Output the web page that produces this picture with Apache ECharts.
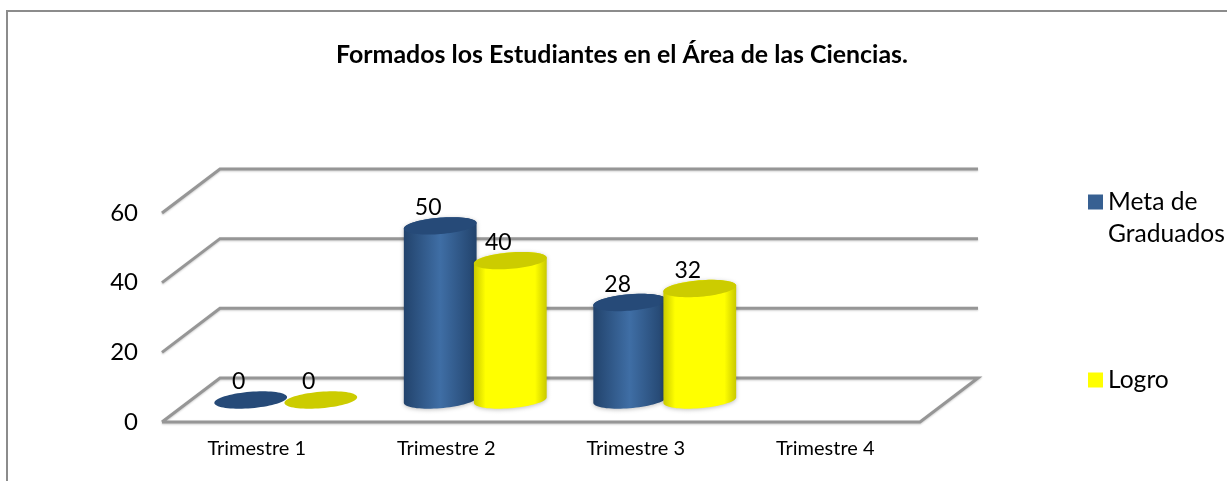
<!DOCTYPE html>
<html>
<head>
<meta charset="utf-8">
<style>
  html, body { margin: 0; padding: 0; background: #fff; }
  #chart { width: 1227px; height: 481px; }
</style>
<script src="https://cdn.jsdelivr.net/npm/echarts@6/dist/echarts.min.js"></script>
</head>
<body>
<div id="chart"></div>
<script>
  var categories = ['Trimestre 1', 'Trimestre 2', 'Trimestre 3', 'Trimestre 4']
  var metaValues = [0, 50, 28, null]
  var logroValues = [0, 40, 32, null]
  var yTicks = [0, 20, 40, 60]

  // oblique depth of the 3D floor
  var DEPTH_X = 58
  var DEPTH_Y = -44
  // cylinder ellipse
  var RX = 36.5
  var RY = 8.2
  var TILT = -4.7 * Math.PI / 180

  function ellipsePoint(cx, cy, t) {
    var ex = RX * Math.cos(t)
    var ey = RY * Math.sin(t)
    return [
      cx + ex * Math.cos(TILT) - ey * Math.sin(TILT),
      cy + ex * Math.sin(TILT) + ey * Math.cos(TILT)
    ]
  }

  function ellipsePoints(cx, cy) {
    var pts = []
    for (var i = 0; i < 72; i++) {
      pts.push(ellipsePoint(cx, cy, i / 72 * Math.PI * 2))
    }
    return pts
  }

  // parameter where the rotated ellipse has its vertical tangent
  function tangentAngle() {
    return Math.atan2(-RY * Math.sin(TILT), RX * Math.cos(TILT))
  }

  function bodyPoints(cx, topY, baseY) {
    var t0 = tangentAngle()
    var pts = []
    for (var i = 0; i <= 36; i++) {
      pts.push(ellipsePoint(cx, baseY, t0 + i / 36 * Math.PI))
    }
    for (var j = 0; j <= 36; j++) {
      pts.push(ellipsePoint(cx, topY, t0 + Math.PI + j / 36 * Math.PI))
    }
    return pts
  }

  function gradient(edge, mid, stop) {
    return new echarts.graphic.LinearGradient(0, 0, 1, 0, [
      { offset: 0, color: edge },
      { offset: stop, color: mid },
      { offset: 1 - stop, color: mid },
      { offset: 1, color: edge }
    ])
  }

  function cylinderRenderer(side, edge, mid, stop, topColor) {
    return function (params, api) {
      var value = api.value(1)
      if (isNaN(value)) {
        return
      }
      var cat = api.value(0)
      var top = api.coord([cat, value])
      var base = api.coord([cat, 0])
      var cx = top[0] + DEPTH_X / 2 + side * RX * 0.96
      var topY = top[1] + DEPTH_Y / 2
      var baseY = base[1] + DEPTH_Y / 2
      var children = []
      if (value > 0) {
        children.push({
          type: 'polygon',
          shape: { points: bodyPoints(cx, topY, baseY) },
          style: {
            fill: gradient(edge, mid, stop),
            shadowBlur: 4,
            shadowColor: 'rgba(0,0,0,0.25)',
            shadowOffsetY: 1
          }
        })
      }
      children.push({
        type: 'polygon',
        shape: { points: ellipsePoints(cx, topY) },
        style: { fill: topColor }
      })
      children.push({
        type: 'text',
        style: {
          text: String(value),
          x: cx - 12,
          y: topY - 18,
          align: 'center',
          verticalAlign: 'middle',
          fill: '#000',
          font: '23px Lato'
        }
      })
      return { type: 'group', children: children }
    }
  }

  function renderGridLine(params, api) {
    var v = api.value(1)
    var rect = params.coordSys
    var left = rect.x
    var right = rect.x + rect.width
    var y = api.coord([0, v])[1]
    var points = [
      [left, y],
      [left + DEPTH_X, y + DEPTH_Y],
      [right + DEPTH_X, y + DEPTH_Y]
    ]
    if (v === 0) {
      points.push([right, y])
      points.push([left, y])
    }
    return {
      type: 'polyline',
      shape: { points: points },
      style: {
        fill: null,
        stroke: '#969696',
        lineWidth: 3,
        shadowBlur: 2,
        shadowColor: 'rgba(0,0,0,0.2)',
        shadowOffsetY: 1
      }
    }
  }

  var chart = echarts.init(document.getElementById('chart'), null, { renderer: 'canvas' })

  chart.setOption({
    animation: false,
    backgroundColor: '#fff',
    textStyle: { fontFamily: 'Lato' },
    title: {
      text: 'Formados los Estudiantes en el Área de las Ciencias.',
      left: 336,
      top: 42,
      padding: 0,
      textStyle: { fontFamily: 'Lato', fontSize: 24.9, fontWeight: 'bold', color: '#000' }
    },
    graphic: [{
      type: 'rect',
      shape: { x: 7, y: 11, width: 1300, height: 600 },
      style: { fill: null, stroke: '#8c8c8c', lineWidth: 2 },
      silent: true
    }],
    grid: { left: 162, right: 307, top: 213, bottom: 59 },
    legend: {
      data: ['Meta de Graduados', 'Logro'],
      orient: 'vertical',
      left: 1088,
      top: 154,
      padding: 0,
      icon: 'rect',
      itemWidth: 15,
      itemHeight: 15,
      itemGap: 114,
      formatter: function (name) {
        return name === 'Logro' ? name : '\nMeta de\nGraduados'
      },
      textStyle: { fontFamily: 'Lato', fontSize: 24.6, lineHeight: 32, color: '#000' }
    },
    xAxis: {
      type: 'category',
      data: categories,
      axisLine: { show: false },
      axisTick: { show: false },
      axisLabel: { margin: 17, fontFamily: 'Lato', fontSize: 20, color: '#000' }
    },
    yAxis: {
      type: 'value',
      min: yTicks[0],
      max: yTicks[yTicks.length - 1],
      interval: 20,
      axisLine: { show: false },
      axisTick: { show: false },
      splitLine: { show: false },
      axisLabel: { margin: 24, fontFamily: 'Lato', fontSize: 24, color: '#000' }
    },
    series: [
      {
        type: 'custom',
        name: 'rejilla',
        silent: true,
        z: 1,
        renderItem: renderGridLine,
        data: yTicks.map(function (v) { return [0, v] })
      },
      {
        type: 'custom',
        name: 'Meta de Graduados',
        z: 2,
        itemStyle: { color: '#376092' },
        renderItem: cylinderRenderer(-1, '#22436c', '#3f6ea5', 0.5, '#264a78'),
        encode: { x: 0, y: 1 },
        data: metaValues.map(function (v, i) { return [i, v] })
      },
      {
        type: 'custom',
        name: 'Logro',
        z: 3,
        itemStyle: { color: '#ffff00' },
        renderItem: cylinderRenderer(1, '#c9c900', '#ffff00', 0.16, '#cccc00'),
        encode: { x: 0, y: 1 },
        data: logroValues.map(function (v, i) { return [i, v] })
      }
    ]
  })
</script>
</body>
</html>
